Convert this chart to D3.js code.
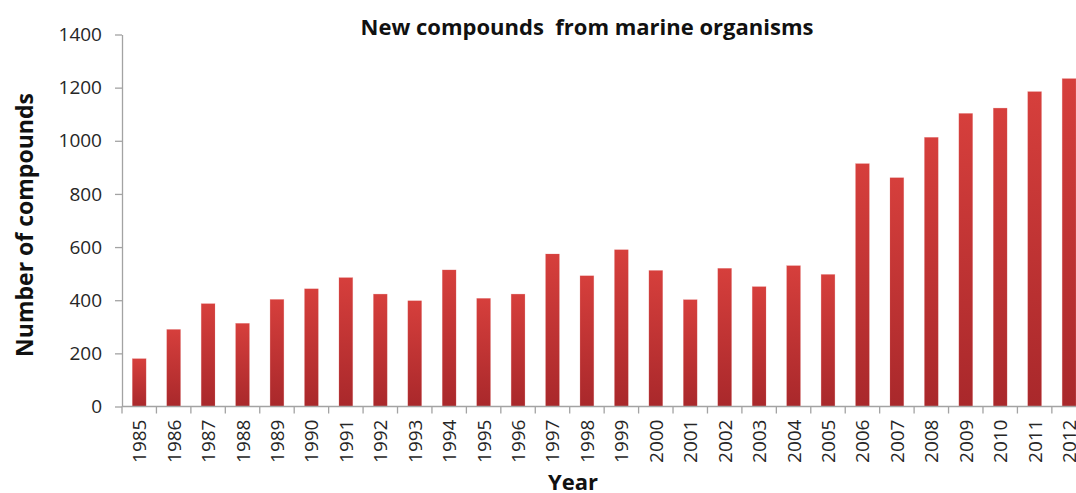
<!DOCTYPE html>
<html>
<head>
<meta charset="utf-8">
<script src="https://cdn.jsdelivr.net/npm/d3@7"></script>
<style>
  html, body { margin: 0; padding: 0; background: #fff; overflow: hidden; }
  svg { display: block; font-family: "Open Sans", "Noto Sans", sans-serif; }
</style>
</head>
<body>
<svg id="chart" width="1076" height="493"></svg>
<script>
// Yearly counts of new compounds reported from marine organisms
const years = ["1985","1986","1987","1988","1989","1990","1991","1992","1993","1994",
               "1995","1996","1997","1998","1999","2000","2001","2002","2003","2004",
               "2005","2006","2007","2008","2009","2010","2011","2012"];
const compounds = [180, 290, 387, 313, 403, 443, 485, 423, 398, 514,
                   407, 423, 574, 492, 590, 512, 402, 520, 451, 530,
                   497, 914, 861, 1013, 1103, 1123, 1185, 1234];
const yTicks = [0, 200, 400, 600, 800, 1000, 1200, 1400];

const titleText = "New compounds  from marine organisms";
const xTitle = "Year";
const yTitle = "Number of compounds";

const svg = d3.select("#chart");

const plot = { left: 122, right: 1086.3, top: 34.5, bottom: 406.5 };

const x = d3.scaleBand()
  .domain(years)
  .range([plot.left, plot.right])
  .paddingInner(0.6)
  .paddingOuter(0.3);

const y = d3.scaleLinear()
  .domain([0, 1400])
  .range([plot.bottom, plot.top]);

// Vertical gradient used by every bar: bright red at top, deeper red at the base
const defs = svg.append("defs");
const grad = defs.append("linearGradient")
  .attr("id", "barFill")
  .attr("x1", 0).attr("y1", 0).attr("x2", 0).attr("y2", 1);
grad.append("stop").attr("offset", "0%").attr("stop-color", "#d63f3c");
grad.append("stop").attr("offset", "100%").attr("stop-color", "#a9282b");

// Bars
svg.append("g")
  .selectAll("rect")
  .data(years.map((yr, i) => ({ yr, v: compounds[i] })))
  .join("rect")
  .attr("x", d => x(d.yr))
  .attr("y", d => y(d.v))
  .attr("width", x.bandwidth())
  .attr("height", d => y(0) - y(d.v))
  .attr("fill", "url(#barFill)")
  .attr("stroke", "rgba(230,120,120,0.35)")
  .attr("stroke-width", 0.6);

// Y axis
const yAxis = svg.append("g")
  .attr("transform", `translate(${plot.left},0)`)
  .call(d3.axisLeft(y).tickValues(yTicks).tickFormat(d3.format("d"))
    .tickSize(7).tickSizeOuter(0).tickPadding(13));
yAxis.select(".domain").attr("stroke", "#a3a3a3").attr("stroke-width", 1.3);
yAxis.selectAll(".tick line").attr("stroke", "#a3a3a3").attr("stroke-width", 1.3);
yAxis.selectAll(".tick text")
  .attr("fill", "#262626")
  .style("font-size", "19px")
  .style("font-family", "'Open Sans', sans-serif");

// X axis: baseline, category boundary ticks and rotated year labels
const xAxis = svg.append("g");
xAxis.append("line")
  .attr("x1", plot.left).attr("x2", plot.right)
  .attr("y1", y(0)).attr("y2", y(0))
  .attr("stroke", "#a3a3a3").attr("stroke-width", 1.3);

const boundaries = d3.range(years.length + 1).map(i => x.range()[0] + i * x.step());
xAxis.selectAll("line.tick")
  .data(boundaries)
  .join("line")
  .attr("class", "tick")
  .attr("x1", d => d).attr("x2", d => d)
  .attr("y1", y(0)).attr("y2", y(0) + 7)
  .attr("stroke", "#a3a3a3").attr("stroke-width", 1.3);

xAxis.selectAll("text")
  .data(years)
  .join("text")
  .attr("transform", d => `translate(${x(d) + x.bandwidth() / 2 + 7},${y(0) + 13}) rotate(-90)`)
  .attr("text-anchor", "end")
  .attr("fill", "#262626")
  .style("font-size", "19px")
  .text(d => d);

// Titles
svg.append("text")
  .attr("x", 587).attr("y", 35)
  .attr("text-anchor", "middle")
  .attr("fill", "#111")
  .style("font-size", "22px")
  .style("font-weight", "bold")
  .style("white-space", "pre")
  .attr("xml:space", "preserve")
  .text(titleText);

svg.append("text")
  .attr("x", 573).attr("y", 490)
  .attr("text-anchor", "middle")
  .attr("fill", "#111")
  .style("font-size", "22px")
  .style("font-weight", "bold")
  .text(xTitle);

svg.append("text")
  .attr("transform", "translate(33,225) rotate(-90)")
  .attr("text-anchor", "middle")
  .attr("fill", "#111")
  .style("font-size", "23px")
  .style("font-weight", "bold")
  .text(yTitle);
</script>
</body>
</html>
